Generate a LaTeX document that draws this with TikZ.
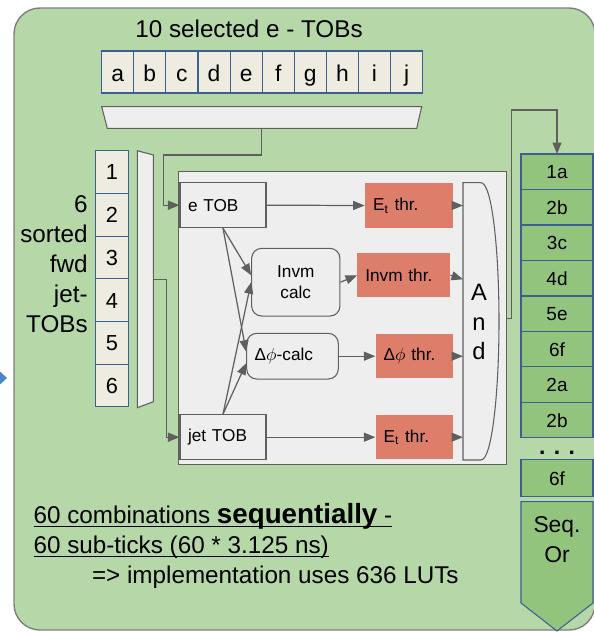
\documentclass[tikz,border=0pt]{standalone}
\usepackage{fontspec}
\setmainfont{Liberation Sans}
\usepackage{tikz}
\usetikzlibrary{arrows.meta, positioning, calc}

\definecolor{bggreen}{HTML}{B6D7A8}
\definecolor{bgline}{HTML}{7F7F7F}
\definecolor{cellbeige}{HTML}{EEECE1}
\definecolor{cellblue}{HTML}{3C5F8F}
\definecolor{panelgray}{HTML}{EEEEEE}
\definecolor{wiregray}{HTML}{5F5F5F}
\definecolor{thrred}{HTML}{DD7E6B}
\definecolor{colgreen}{HTML}{93C47D}
\definecolor{tipblue}{HTML}{4A86C8}

% underline at a fixed depth
\newlength{\ulnotewd}
\newcommand{\ulnote}[1]{\settowidth{\ulnotewd}{#1}\rlap{\rule[-2pt]{\ulnotewd}{0.6pt}}#1}

\tikzset{
  % TOB list cells
  tobcell/.style={rectangle, draw=cellblue, fill=cellbeige, line width=0.6pt, inner sep=0pt, outer sep=0pt, minimum width=0.642cm, minimum height=0.84cm, text height=11.5pt, text depth=0.5pt, font=\fontsize{13}{15}\selectfont},
  jetcell/.style={tobcell, minimum width=0.652cm, minimum height=0.854cm, text height=9pt, text depth=0pt, font=\fontsize{12.4}{14}\selectfont},
  seqcell/.style={tobcell, fill=colgreen, minimum width=1.44cm, minimum height=0.71cm, text height=7.8pt, text depth=0pt, font=\fontsize{10.8}{13}\selectfont},
  % Logic blocks
  tobbox/.style={rectangle, draw=wiregray, fill=panelgray, line width=0.6pt, minimum height=0.9cm, inner xsep=0.16cm, align=left, font=\fontsize{9.8}{11.5}\selectfont},
  thrbox/.style={rectangle, fill=thrred, minimum height=0.886cm, inner xsep=0.16cm, align=left, font=\fontsize{9.8}{11.5}\selectfont},
  calcbox/.style={rectangle, rounded corners=0.2cm, draw=wiregray, fill=panelgray, line width=0.6pt, inner xsep=0.16cm, font=\fontsize{9.8}{12.3}\selectfont},
  muxbox/.style={draw=wiregray, fill=panelgray, line width=0.6pt},
  arrow/.style={-{Triangle[length=2.3mm, width=1.8mm]}, draw=wiregray, line width=0.7pt},
  bigtext/.style={font=\fontsize{13.8}{17}\selectfont},
}

\begin{document}
\begin{tikzpicture}[x=0.02cm, y=-0.02cm]
    \useasboundingbox (0,0) rectangle (594,632);
    \clip (0,0) rectangle (594,632);

    % Background
    \draw[fill=bggreen, draw=bgline, line width=0.8pt, rounded corners=0.52cm] (14,8) rectangle (595,630);
    \fill[tipblue] (-6,366) -- (7,378) -- (-6,390) -- cycle;

    % e-TOB list
    \node[bigtext, anchor=base] (title) at (249,37.3) {10 selected e - TOBs};
    \node[tobcell] (ca) at (117.75,72) {a};
    \node[tobcell, right=0pt of ca] (cb) {b};
    \node[tobcell, right=0pt of cb] (cc) {c};
    \node[tobcell, right=0pt of cc] (cd) {d};
    \node[tobcell, right=0pt of cd] (ce) {e};
    \node[tobcell, right=0pt of ce] (cf) {f};
    \node[tobcell, right=0pt of cf] (cg) {g};
    \node[tobcell, right=0pt of cg] (ch) {h};
    \node[tobcell, right=0pt of ch] (ci) {i};
    \node[tobcell, right=0pt of ci] (cj) {j};
    \draw[muxbox] (101.7,106.7) -- (421.7,106.7) -- (416.7,128.3) -- (107.3,128.3) -- cycle;
    \coordinate (emuxout) at (261.7,128.3);

    % jet-TOB list
    \node[bigtext, align=right, anchor=east, inner xsep=0pt] (jetlbl) at (88,264) {6\\sorted\\fwd\\jet-\\TOBs};
    \node[jetcell] (j1) at (112,172.05) {1};
    \node[jetcell, below=0pt of j1] (j2) {2};
    \node[jetcell, below=0pt of j2] (j3) {3};
    \node[jetcell, below=0pt of j3] (j4) {4};
    \node[jetcell, below=0pt of j4] (j5) {5};
    \node[jetcell, below=0pt of j5] (j6) {6};
    \draw[muxbox] (137.3,150.7) -- (153.3,155) -- (153.3,401.7) -- (137.3,407.7) -- cycle;
    \coordinate (jmuxout) at (153.3,279.3);

    % Topo algorithm
    \node[muxbox, rectangle, minimum width=6.568cm, minimum height=5.866cm] (panel) at (342.5,318.3) {};
    \node[tobbox, text width=1.4cm] (etob) at (223,205.2) {e TOB};
    \node[tobbox, text width=1.4cm] (jettob) at (223,437.2) {jet TOB};
    \node[calcbox, minimum width=1.766cm, minimum height=1.354cm, align=center] (invm) at (295.8,282.2) {Invm\\calc};
    \node[calcbox, text width=1.512cm, minimum height=0.914cm, align=left] (dcalc) at (292.5,356.2) {Δ$\phi$-calc};
    \node[thrbox, text width=1.446cm, minimum height=0.888cm] (et1) at (409.2,205.5) {E\textsubscript{t} thr.};
    \node[thrbox, text width=1.534cm, minimum height=0.88cm] (invthr) at (403.7,275.3) {Invm thr.};
    \node[thrbox, text width=1.232cm] (dthr) at (414.5,356.2) {Δ$\phi$ thr.};
    \node[thrbox, text width=1.232cm] (et2) at (414.5,437.2) {E\textsubscript{t} thr.};
    \draw[muxbox] (463,182.7) -- (481,182.7) .. controls (492,182.7) and (499,250) .. (499,321.4) .. controls (499,392) and (492,460) .. (481,460) -- (463,460) -- cycle;
    \coordinate (gate) at (463,321.4);
    \node[font=\fontsize{13.5}{17}\selectfont, align=center] (andlbl) at (479,322) {A\\n\\d};

    % Arrows
    \draw[arrow] (emuxout) -- ++(0,26.7) -| ($(etob.west)+(-15.7,0)$) -- (etob.west);
    \draw[arrow] (jmuxout) -| ($(jettob.west)+(-13.3,0)$) -- (jettob.west);
    \draw[arrow] (etob.east) -- (et1.west);
    \draw[arrow] (jettob.east) -- (et2.west);
    \draw[arrow] (invm.east) -- (invthr.west);
    \draw[arrow] (dcalc.east) -- (dthr.west);
    \draw[arrow] (etob.south) -- ($(invm.west)+(0,-7)$);
    \draw[arrow] (etob.south) -- ($(dcalc.west)+(0,-4.5)$);
    \draw[arrow] (jettob.north) -- ($(invm.west)+(0,0)$);
    \draw[arrow] (jettob.north) -- ($(dcalc.west)+(0,7)$);
    \draw[arrow] (et1.east) -- (et1.east -| gate);
    \draw[arrow] (invthr.east) -- ($(invthr.east -| gate)+(0,4)$);
    \draw[arrow] (dthr.east) -- (dthr.east -| gate);
    \draw[arrow] (et2.east) -- (et2.east -| gate);

    % Sequence of combinations
    \node[seqcell] (s1) at (557,171.75) {1a};
    \node[seqcell, below=0pt of s1] (s2) {2b};
    \node[seqcell, below=0pt of s2] (s3) {3c};
    \node[seqcell, below=0pt of s3] (s4) {4d};
    \node[seqcell, below=0pt of s4] (s5) {5e};
    \node[seqcell, below=0pt of s5] (s6) {6f};
    \node[seqcell, below=0pt of s6] (s7) {2a};
    \node[seqcell, below=0pt of s7] (s8) {2b};
    \node[font=\bfseries\fontsize{13}{15}\selectfont] (sdots) at (557,453) {. . .};
    \node[seqcell, minimum height=0.734cm] (s9) at (557,478.3) {6f};
    \draw[draw=cellblue, fill=colgreen, line width=0.6pt] (521,501.7) -- (593,501.7) -- (593,603) -- (557,631) -- (521,603) -- cycle;
    \node[font=\fontsize{13}{17}\selectfont, align=center] (seqor) at (557,540) {Seq.\\Or};
    \draw[arrow] (panel.east) -- ++(4,0) |- ($(s1.north)+(0,-44)$) -- (s1.north);

    % Notes
    \node[bigtext, anchor=base west, inner sep=0pt] (note1) at (33.3,523.3) {\ulnote{60 combinations {\bfseries\fontsize{15.8}{17}\selectfont sequentially} -}};
    \node[bigtext, anchor=base west, inner sep=0pt] (note2) at (33.3,553.3) {\ulnote{60 sub-ticks (60 * 3.125 ns)}};
    \node[bigtext, anchor=base west, inner sep=0pt] (note3) at (91.7,583.3) {=> implementation uses 636 LUTs};
\end{tikzpicture}
\end{document}
